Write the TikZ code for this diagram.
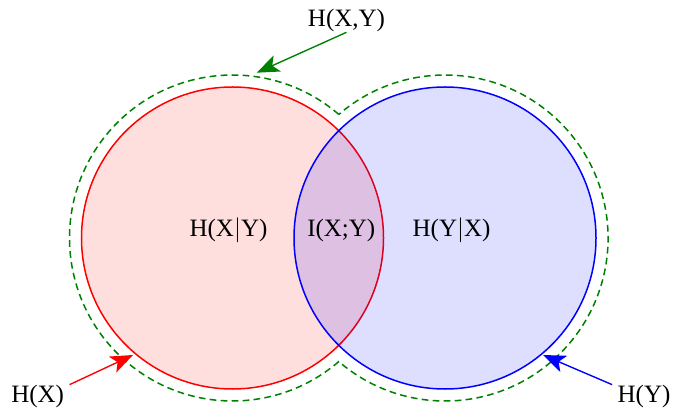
\documentclass[tikz,border=0pt]{standalone}
\usepackage{fontspec}
\setmainfont{Liberation Serif}
\usetikzlibrary{arrows.meta}
\definecolor{dkgreen}{RGB}{0,128,0}
\tikzset{
  setcirc/.style={circle, inner sep=0pt, outer sep=0pt, minimum size=120.8pt, line width=0.6pt, fill opacity=0.13},
  lbl/.style={inner xsep=2pt, inner ysep=0pt, anchor=base, font=\fontsize{10pt}{12pt}\selectfont},
  ptr/.style={line width=0.55pt, -{Stealth[length=9pt, width=7pt, inset=2.2pt]}},
  outline/.style={dkgreen, line width=0.6pt, dash pattern=on 2.7pt off 1.7pt}
}
\begin{document}
\begin{tikzpicture}[x=0.4pt, y=-0.4pt]
\useasboundingbox (0,0) rectangle (673,412);
% circles
\node[setcirc, draw=red, fill=red] (X) at (232.5,238) {};
\node[setcirc, draw=blue, fill=blue] (Y) at (445,238) {};
% union outline
\coordinate (gl) at (232.5,238);
\draw[outline] (gl) ++(49.3:65.2pt) arc[start angle=49.3, end angle=310.7, radius=65.2pt]
  arc[start angle=229.3, end angle=490.7, radius=65.2pt] -- cycle;
% region labels
\node[lbl] (hxy) at (228.5,237) {H(X$|$Y)};
\node[lbl] (ixy) at (341.3,237) {I(X;Y)};
\node[lbl] (hyx) at (451.5,237) {H(Y$|$X)};
% outer labels
\node[lbl] (lj) at (346.5,26.5) {H(X,Y)};
\node[lbl] (lx) at (37.7,402.5) {H(X)};
\node[lbl] (ly) at (644,402.5) {H(Y)};
\coordinate (tj) at (256.7,72.7);
\coordinate (tx) at (133,355);
\coordinate (ty) at (543,355);
\draw[ptr, dkgreen] (lj.south) -- (tj);
\draw[ptr, red] (lx.north east) -- (tx);
\draw[ptr, blue] (ly.north west) -- (ty);
\end{tikzpicture}
\end{document}
